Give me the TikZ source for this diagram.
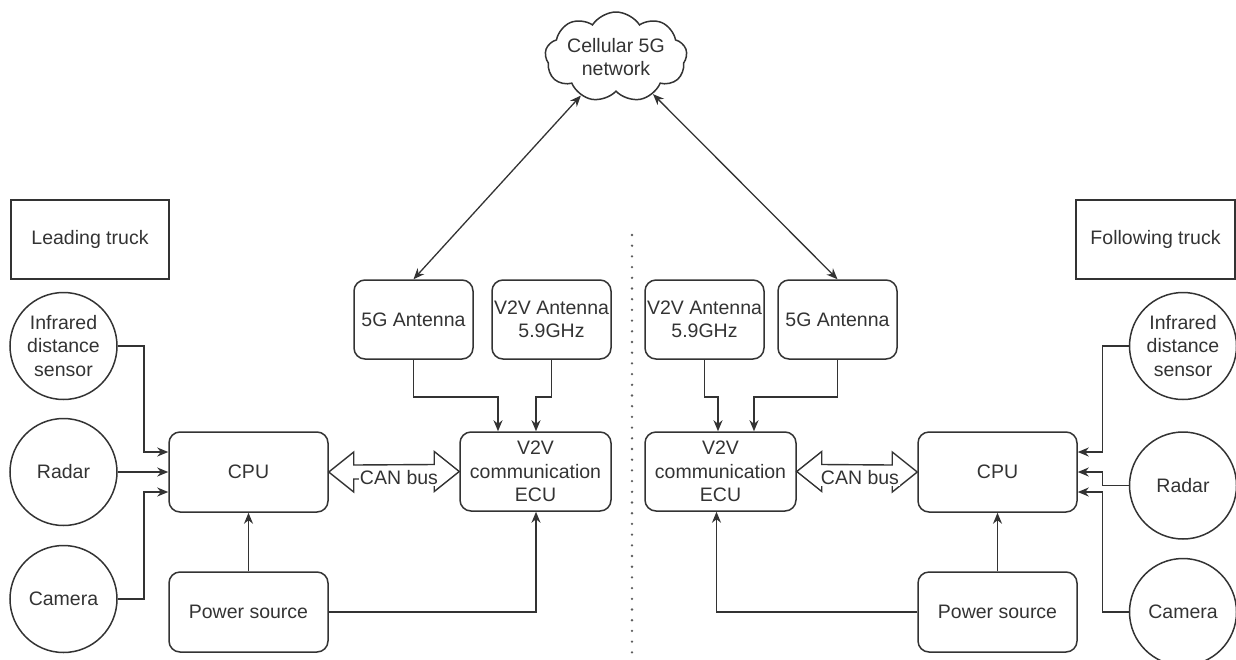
\documentclass[tikz,border=0pt]{standalone}
\usepackage{fontspec}
\setmainfont{Liberation Sans}
\usetikzlibrary{arrows.meta,calc,shapes.symbols}
\definecolor{ink}{HTML}{333333}
\begin{document}
\begin{tikzpicture}[x=1pt,y=-1pt,
  font=\fontsize{19.5}{23.4}\selectfont,
  every node/.style={text=ink},
  base/.style={draw=ink, line width=1.5pt, inner sep=0pt, align=center},
  rbox/.style={base, rectangle, rounded corners=11pt, minimum width=#1, minimum height=79pt},
  sbox/.style={base, rectangle, minimum width=#1, minimum height=79pt},
  sensor/.style={base, circle, minimum size=107pt},
  link/.style={draw=ink, line width=1.5pt, -{Stealth[length=11pt,width=9pt,inset=3.5pt]}},
  dlink/.style={draw=ink, line width=1.3pt, {Stealth[length=11pt,width=9pt,inset=3.5pt]}-{Stealth[length=11pt,width=9pt,inset=3.5pt]}},
  bus/.style={draw=ink, line width=1.4pt, fill=white, line join=miter},
  buslabel/.style={fill=white, inner sep=1pt},
  sep/.style={draw=ink!80, line width=2.6pt, line cap=round, dash pattern=on 0pt off 10.7pt}
]
\useasboundingbox (0,0) rectangle (1236,659);

% cloud
\node[draw=ink, line width=1.5pt, cloud, cloud puffs=9, cloud puff arc=115, aspect=1.7,
      minimum width=142pt, minimum height=90pt, inner sep=0pt] (cloud) at (616,57) {};
\node[align=center, inner sep=0pt] (cloudtxt) at (616,57) {Cellular 5G\\network};

% truck labels
\node[sbox=158pt] (lead) at (90,239.5) {Leading truck};
\node[sbox=159pt] (follow) at (1155.5,239.5) {Following truck};

% separator
\coordinate (sepTop) at (632,235);
\coordinate (sepBot) at (632,657);
\draw[sep] (sepTop) -- (sepBot);

% ---------- leading truck ----------
\node[sensor] (irL) at (63.5,346) {Infrared\\distance\\sensor};
\node[sensor] (radL) at (63.5,472) {Radar};
\node[sensor] (camL) at (63.5,599) {Camera};
\node[rbox=159pt, minimum height=80pt] (cpuL) at (248.5,472) {CPU};
\node[rbox=159pt, minimum height=80pt] (pwrL) at (248.5,612) {Power source};
\node[rbox=151pt] (ecuL) at (535.5,471.5) {V2V\\communication\\ECU};
\node[rbox=119pt] (ant5L) at (413.5,319.5) {5G Antenna};
\node[rbox=119pt] (antvL) at (551.5,319.5) {V2V Antenna\\5.9GHz};

\draw[link] (irL.east) -- ++(26,0) |- ($(cpuL.west)+(0,-20)$);
\draw[link] (radL.east) -- (cpuL.west);
\draw[link] (camL.east) -- ++(26,0) |- ($(cpuL.west)+(0,20)$);
\draw[link] (pwrL.north) -- (cpuL.south);
\draw[link] (pwrL.east) -| ($(ecuL.south)+(0.5,0)$);
\draw[link] (ant5L.south) -- ++(0,37) -| ($(ecuL.north)+(-37.5,0)$);
\draw[link] (antvL.south) -- ++(0,37) -| ($(ecuL.north)+(0.5,0)$);

\draw[bus] (cpuL.east) -- ++(25,-20) -- ++(0,13) -- ($(ecuL.west)+(-25,-7)$) -- ++(0,-13)
  -- (ecuL.west) -- ++(-25,20) -- ++(0,-13) -- ($(cpuL.east)+(25,7)$) -- ++(0,13) -- cycle;
\node[buslabel] (canL) at ($(cpuL.east)!0.5!(ecuL.west)+(5,6)$) {CAN bus};

% ---------- following truck ----------
\node[sensor] (irR) at (1183,346) {Infrared\\distance\\sensor};
\node[sensor] (radR) at (1183,485.5) {Radar};
\node[sensor] (camR) at (1183,612) {Camera};
\node[rbox=159pt, minimum height=80pt] (cpuR) at (997.5,472) {CPU};
\node[rbox=159pt, minimum height=80pt] (pwrR) at (997.5,612) {Power source};
\node[rbox=151pt] (ecuR) at (720.5,471.5) {V2V\\communication\\ECU};
\node[rbox=119pt] (antvR) at (704.5,319.5) {V2V Antenna\\5.9GHz};
\node[rbox=119pt] (ant5R) at (837.5,319.5) {5G Antenna};

\draw[link] (irR.west) -- ++(-26.5,0) |- ($(cpuR.east)+(0,-20)$);
\draw[link] (radR.west) -- ++(-26.5,0) |- (cpuR.east);
\draw[link] (camR.west) -- ++(-26.5,0) |- ($(cpuR.east)+(0,20)$);
\draw[link] (pwrR.north) -- (cpuR.south);
\draw[link] (pwrR.west) -| ($(ecuR.south)+(-4,0)$);
\draw[link] (antvR.south) -- ++(0,37) -| ($(ecuR.north)+(-2.5,0)$);
\draw[link] (ant5R.south) -- ++(0,37) -| ($(ecuR.north)+(33.5,0)$);

\draw[bus] (ecuR.east) -- ++(25,-20) -- ++(0,13) -- ($(cpuR.west)+(-25,-7)$) -- ++(0,-13)
  -- (cpuR.west) -- ++(-25,20) -- ++(0,-13) -- ($(ecuR.east)+(25,7)$) -- ++(0,13) -- cycle;
\node[buslabel] (canR) at ($(ecuR.east)!0.5!(cpuR.west)+(3,6)$) {CAN bus};

% cloud links
\draw[dlink] (cloud) -- (ant5L.north);
\draw[dlink] (cloud) -- (ant5R.north);
\end{tikzpicture}
\end{document}
